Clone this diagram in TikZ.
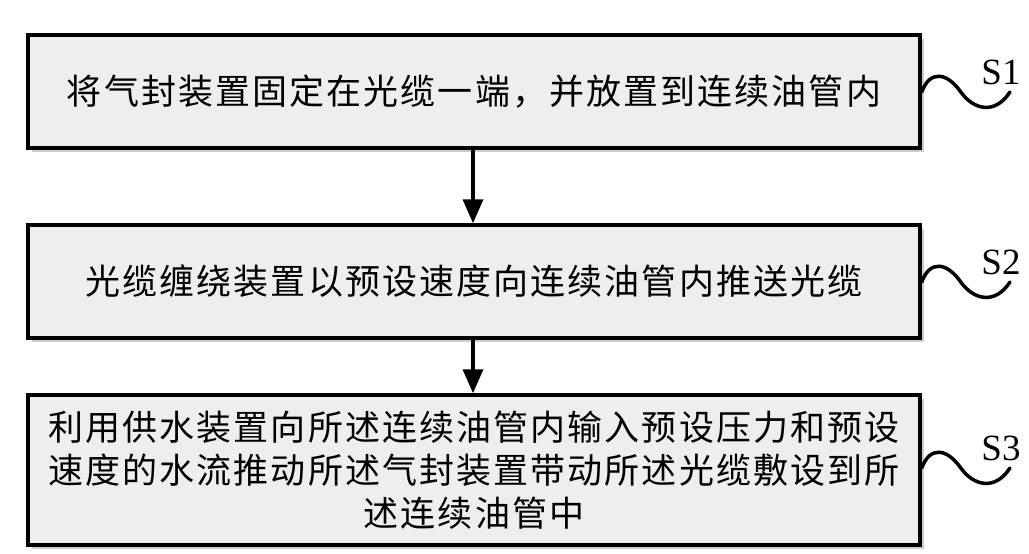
\documentclass[tikz,border=0pt]{standalone}
\usepackage{fontspec}
\setmainfont{Liberation Serif}
\newfontfamily\cjk[LetterSpace=6]{Noto Sans CJK SC}
\usepackage{tikz}
\usetikzlibrary{arrows.meta,positioning,shadows}
\definecolor{boxGray}{RGB}{238,238,238}
\tikzset{
  stepbox/.style={draw, line width=3.5pt, fill=boxGray, align=center, minimum width=892pt, inner sep=0pt,
    font=\cjk\fontsize{35}{43}\selectfont,
    drop shadow={shadow xshift=4pt, shadow yshift=-4pt, fill=black, opacity=0.2}},
  arrow/.style={-{Triangle[length=24pt, width=20pt]}, line width=3.5pt},
  wave/.style={line width=3.5pt, line cap=round},
  steplabel/.style={font=\fontsize{37}{37}\selectfont}
}

\begin{document}
\begin{tikzpicture}[x=1pt,y=-1pt]
  \useasboundingbox (0,0) rectangle (1029,554);
  \node[stepbox, minimum height=113pt] (s1) at (474,91.5) {将气封装置固定在光缆一端，并放置到连续油管内};
  \node[stepbox, minimum height=113pt] (s2) at (474,281.5) {光缆缠绕装置以预设速度向连续油管内推送光缆};
  \node[stepbox, minimum height=150pt] (s3) at (474,470) {利用供水装置向所述连续油管内输入预设压力和预设\\速度的水流推动所述气封装置带动所述光缆敷设到所\\述连续油管中};

  \draw[arrow] (s1.south -| 473,0) -- (s2.north -| 473,0);
  \draw[arrow] (s2.south -| 473,0) -- (s3.north -| 473,0);

  % step labels with wavy leaders
  \foreach \n/\y in {1/92, 2/282, 3/468}{
    \coordinate (w\n) at (1010,\y);
    \draw[wave] (s\n.east |- w\n) .. controls +(8,-22) and +(-14,-20) .. ++(39,0)
      .. controls +(13,18) and +(-15,23) .. (w\n);
    \node[steplabel] (l\n) at (1001,\y-20) {S\n};
  }
\end{tikzpicture}
\end{document}
